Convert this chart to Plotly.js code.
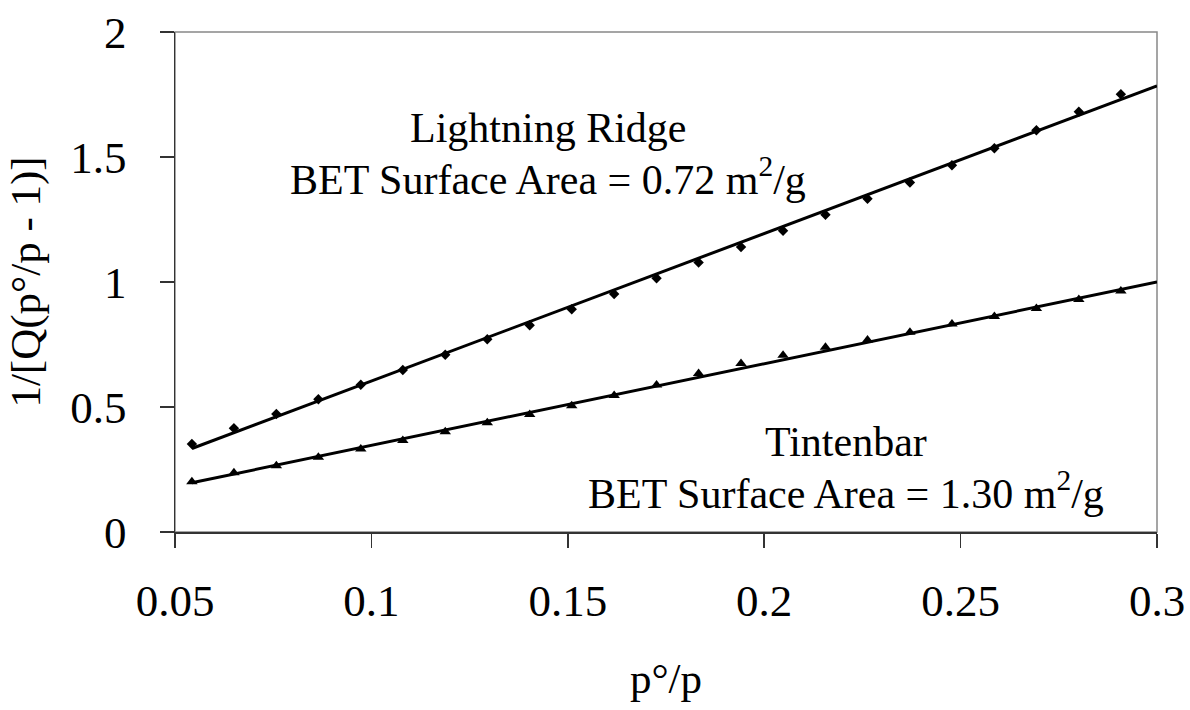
<!DOCTYPE html>
<html>
<head>
<meta charset="utf-8">
<script src="https://cdn.plot.ly/plotly-3.0.1.min.js"></script>
<style>html,body{margin:0;padding:0;background:#fff}#chart{width:1190px;height:710px}</style>
</head>
<body>
<div id="chart"></div>
<script>
// p°/p values (x)
const pRatio = [0.0543, 0.0650, 0.0758, 0.0865, 0.0973, 0.1080, 0.1188, 0.1295, 0.1403, 0.1510,
  0.1618, 0.1726, 0.1833, 0.1941, 0.2048, 0.2156, 0.2263, 0.2371, 0.2478, 0.2586,
  0.2693, 0.2801, 0.2908];
// 1/[Q(p°/p - 1)] values
const lightningRidge = [0.352, 0.415, 0.472, 0.531, 0.589, 0.648, 0.709, 0.771, 0.827, 0.891,
  0.952, 1.015, 1.078, 1.140, 1.205, 1.269, 1.333, 1.398, 1.467, 1.535,
  1.607, 1.681, 1.751];
const tintenbar = [0.201, 0.237, 0.265, 0.299, 0.332, 0.366, 0.401, 0.437, 0.470, 0.505,
  0.546, 0.588, 0.634, 0.674, 0.707, 0.739, 0.768, 0.799, 0.832, 0.862,
  0.894, 0.930, 0.964];
// linear fit lines
const fitX = [0.0543, 0.3];
const lightningFit = [0.334, 1.784];
const tintenbarFit = [0.197, 1.000];
// ticks
const xTickVals = [0.05, 0.1, 0.15, 0.2, 0.25, 0.3];
const xTickText = ['0.05', '0.1', '0.15', '0.2', '0.25', '0.3'];
const yTickVals = [0, 0.5, 1, 1.5, 2];
const yTickText = ['0', '0.5', '1', '1.5', '2'];

const FONT = 'Liberation Serif, Times New Roman, serif';

const traces = [
  {x: fitX, y: lightningFit, mode: 'lines', line: {color: '#000', width: 3}, hoverinfo: 'skip', name: 'Lightning Ridge fit'},
  {x: fitX, y: tintenbarFit, mode: 'lines', line: {color: '#000', width: 3}, hoverinfo: 'skip', name: 'Tintenbar fit'},
  {x: pRatio, y: lightningRidge, mode: 'markers', marker: {symbol: 'diamond', size: 8, color: '#000'}, name: 'Lightning Ridge'},
  {x: pRatio, y: tintenbar, mode: 'markers', marker: {symbol: 'triangle-up', size: 10, color: '#000'}, name: 'Tintenbar'}
];

const layout = {
  width: 1190, height: 710,
  margin: {l: 175, r: 33, t: 32, b: 178},
  paper_bgcolor: '#fff', plot_bgcolor: '#fff',
  showlegend: false,
  font: {family: FONT, color: '#000', size: 43},
  xaxis: {
    range: [0.05, 0.3], tickvals: xTickVals, ticktext: xTickText,
    ticks: 'outside', ticklen: 14, tickwidth: 1.5, tickcolor: '#333',
    showline: true, linecolor: '#333', linewidth: 1.5,
    showgrid: false, zeroline: false,
    tickfont: {family: FONT, size: 45, color: '#000'},
    ticklabelstandoff: 14,
    title: {text: 'p°/p', font: {family: FONT, size: 43, color: '#000'}, standoff: 38},
    automargin: false
  },
  yaxis: {
    range: [0, 2], tickvals: yTickVals, ticktext: yTickText,
    ticks: 'outside', ticklen: 14, tickwidth: 1.5, tickcolor: '#333',
    showline: true, linecolor: '#333', linewidth: 1.5,
    showgrid: false, zeroline: false,
    tickfont: {family: FONT, size: 45, color: '#000'},
    ticklabelstandoff: 24,
    title: {text: '1/[Q(p°/p - 1)]', font: {family: FONT, size: 43, color: '#000'}, standoff: 16},
    automargin: false
  },
  shapes: [
    {type: 'rect', xref: 'paper', yref: 'paper', x0: 0, x1: 1, y0: 0, y1: 1,
     line: {color: '#888', width: 1.5}, layer: 'below'}
  ],
  annotations: [
    {xref: 'x', yref: 'y', x: 0.1450, y: 1.615, text: 'Lightning Ridge', showarrow: false,
     xanchor: 'center', yanchor: 'middle', font: {family: FONT, size: 42, color: '#000'}},
    {xref: 'x', yref: 'y', x: 0.1450, y: 1.423, text: 'BET Surface Area = 0.72 m<sup>2</sup>/g', showarrow: false,
     xanchor: 'center', yanchor: 'middle', font: {family: FONT, size: 42, color: '#000'}},
    {xref: 'x', yref: 'y', x: 0.2208, y: 0.362, text: 'Tintenbar', showarrow: false,
     xanchor: 'center', yanchor: 'middle', font: {family: FONT, size: 42, color: '#000'}},
    {xref: 'x', yref: 'y', x: 0.2208, y: 0.165, text: 'BET Surface Area = 1.30 m<sup>2</sup>/g', showarrow: false,
     xanchor: 'center', yanchor: 'middle', font: {family: FONT, size: 42, color: '#000'}}
  ]
};

Plotly.newPlot('chart', traces, layout, {displayModeBar: false, staticPlot: true});
</script>
</body>
</html>
